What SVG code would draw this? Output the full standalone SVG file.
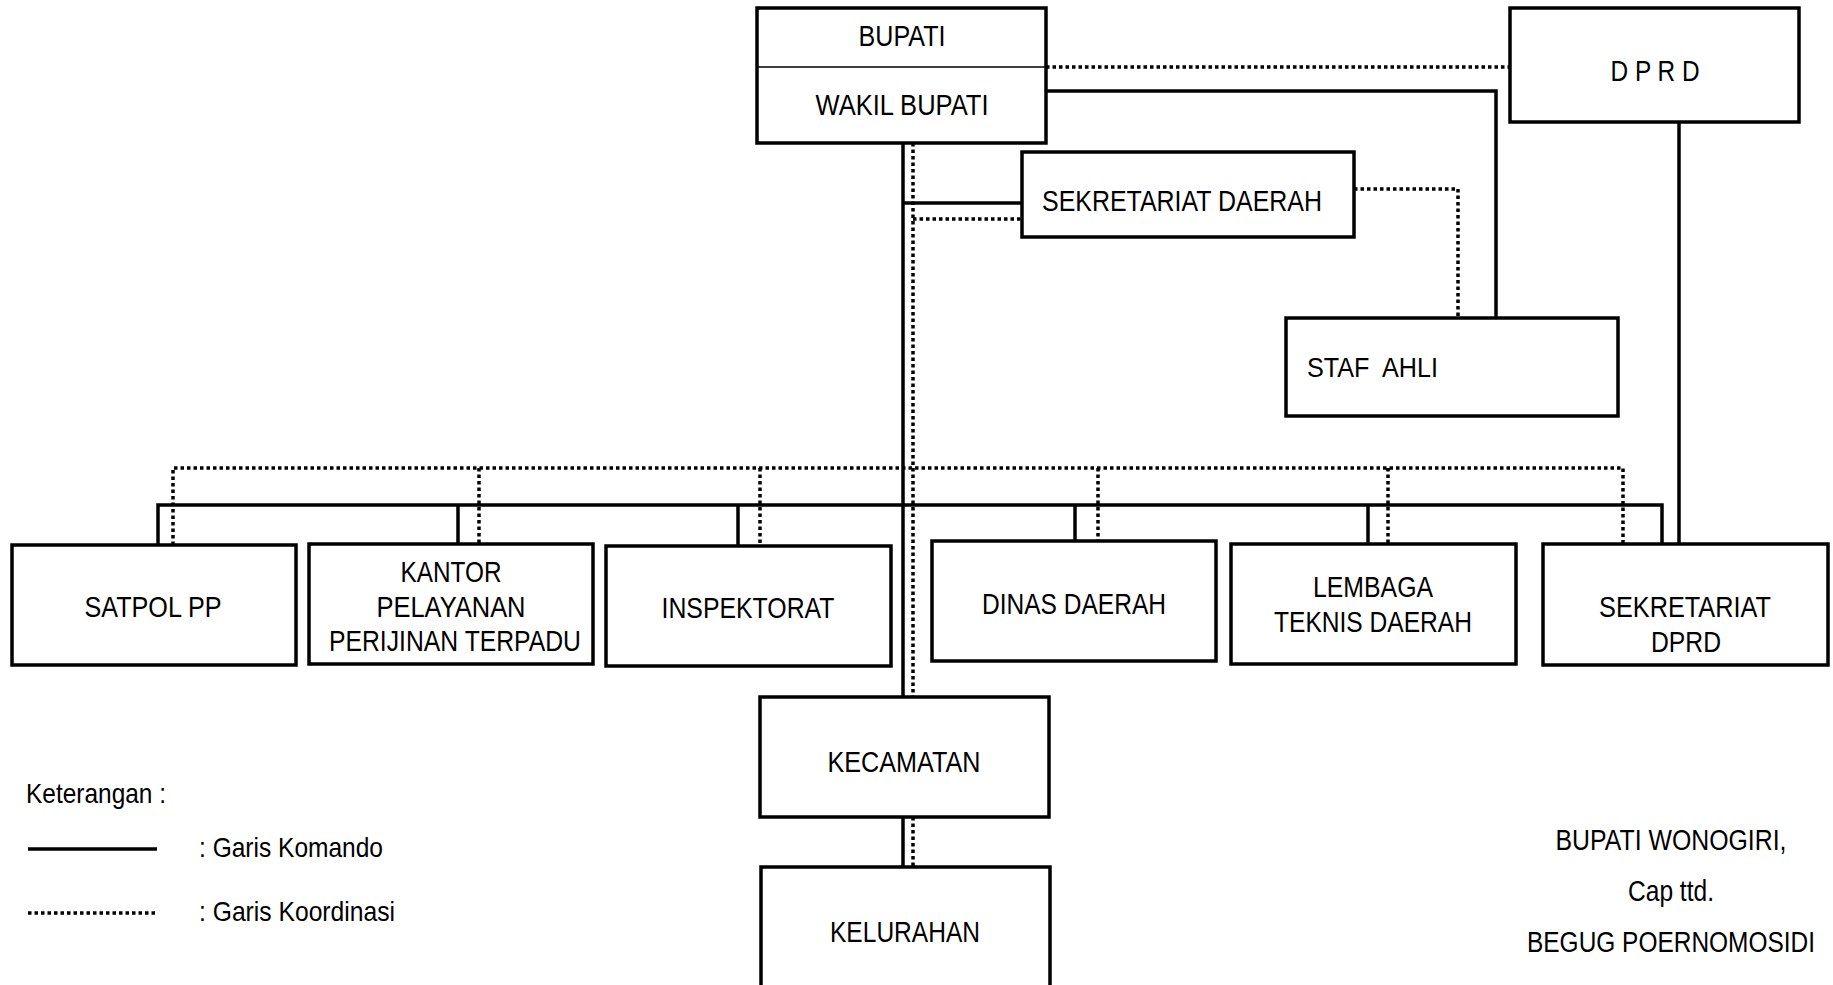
<svg xmlns="http://www.w3.org/2000/svg" width="1833" height="985" viewBox="0 0 1833 985">
<style>
.box{fill:#fff;stroke:#000;stroke-width:3.5}
.t{font-family:"Liberation Sans",Arial,sans-serif;font-size:29px;fill:#000;text-anchor:middle;dominant-baseline:central}
.tl{font-family:"Liberation Sans",Arial,sans-serif;font-size:28px;fill:#000;dominant-baseline:central;white-space:pre}
.s{fill:none;stroke:#000;stroke-width:3.5}
.d{fill:none;stroke:#000;stroke-width:3.5;stroke-dasharray:3.5 3}
</style>
<rect width="1833" height="985" fill="#fff"/>
<g id="connectors">
  <path class="s" d="M903 143V697M903 817V867"/>
  <path class="d" d="M913 143V697M913 817V867"/>
  <path class="s" d="M903 203H1022"/>
  <path class="d" d="M913 219H1022"/>
  <path class="d" d="M1046 67H1509"/>
  <path class="s" d="M1046 91H1496V317"/>
  <path class="d" d="M1354 189H1458V317"/>
  <path class="s" d="M1679 122V544"/>
  <path class="d" d="M173 545V468H1623V544M479 468V544M760 468V546M1098 468V541M1388 468V544"/>
  <path class="s" d="M158 545V505H1662V544M458 505V544M738 505V546M1075 505V541M1368 505V544"/>
</g>
<g id="bupati">
  <rect class="box" x="757" y="8" width="289" height="135"/>
  <line x1="757" y1="67" x2="1046" y2="67" stroke="#000" stroke-width="1.5"/>
  <text class="t" x="902" y="36" textLength="87" lengthAdjust="spacingAndGlyphs">BUPATI</text>
  <text class="t" x="902" y="105" textLength="173" lengthAdjust="spacingAndGlyphs">WAKIL BUPATI</text>
</g>
<g id="dprd">
  <rect class="box" x="1510" y="8" width="289" height="114"/>
  <text class="t" x="1655" y="71" textLength="89" lengthAdjust="spacingAndGlyphs">D P R D</text>
</g>
<g id="sekda">
  <rect class="box" x="1022" y="152" width="332" height="85"/>
  <text class="t" x="1182" y="201" textLength="280" lengthAdjust="spacingAndGlyphs">SEKRETARIAT DAERAH</text>
</g>
<g id="stafahli">
  <rect class="box" x="1286" y="318" width="332" height="98"/>
  <text class="tl" x="1307" y="367" font-size="29" textLength="131" lengthAdjust="spacingAndGlyphs">STAF  AHLI</text>
</g>
<g id="satpol">
  <rect class="box" x="12" y="545" width="284" height="120"/>
  <text class="t" x="153" y="607" textLength="137" lengthAdjust="spacingAndGlyphs">SATPOL PP</text>
</g>
<g id="kantor">
  <rect class="box" x="309" y="544" width="284" height="120"/>
  <text class="t" x="451" y="572" textLength="101" lengthAdjust="spacingAndGlyphs">KANTOR</text>
  <text class="t" x="451" y="607" textLength="149" lengthAdjust="spacingAndGlyphs">PELAYANAN</text>
  <text class="t" x="455" y="641" textLength="252" lengthAdjust="spacingAndGlyphs">PERIJINAN TERPADU</text>
</g>
<g id="inspektorat">
  <rect class="box" x="606" y="546" width="285" height="120"/>
  <text class="t" x="748" y="608" textLength="173" lengthAdjust="spacingAndGlyphs">INSPEKTORAT</text>
</g>
<g id="dinas">
  <rect class="box" x="932" y="541" width="284" height="120"/>
  <text class="t" x="1074" y="604" textLength="184" lengthAdjust="spacingAndGlyphs">DINAS DAERAH</text>
</g>
<g id="lembaga">
  <rect class="box" x="1231" y="544" width="285" height="120"/>
  <text class="t" x="1373" y="587" textLength="120" lengthAdjust="spacingAndGlyphs">LEMBAGA</text>
  <text class="t" x="1373" y="622" textLength="198" lengthAdjust="spacingAndGlyphs">TEKNIS DAERAH</text>
</g>
<g id="sekdprd">
  <rect class="box" x="1543" y="544" width="285" height="121"/>
  <text class="t" x="1685" y="607" textLength="172" lengthAdjust="spacingAndGlyphs">SEKRETARIAT</text>
  <text class="t" x="1686" y="642" textLength="70" lengthAdjust="spacingAndGlyphs">DPRD</text>
</g>
<g id="kecamatan">
  <rect class="box" x="760" y="697" width="289" height="120"/>
  <text class="t" x="904" y="762" textLength="153" lengthAdjust="spacingAndGlyphs">KECAMATAN</text>
</g>
<g id="kelurahan">
  <rect class="box" x="761" y="867" width="289" height="130"/>
  <text class="t" x="905" y="932" textLength="150" lengthAdjust="spacingAndGlyphs">KELURAHAN</text>
</g>
<g id="legend">
  <text class="tl" x="26" y="793" textLength="140" lengthAdjust="spacingAndGlyphs">Keterangan :</text>
  <line class="s" x1="28" y1="849" x2="157" y2="849"/>
  <text class="tl" x="199" y="847" textLength="184" lengthAdjust="spacingAndGlyphs">: Garis Komando</text>
  <line class="d" x1="28" y1="913" x2="157" y2="913"/>
  <text class="tl" x="199" y="911" textLength="196" lengthAdjust="spacingAndGlyphs">: Garis Koordinasi</text>
</g>
<g id="signature">
  <text class="t" x="1671" y="840" font-size="26" textLength="231" lengthAdjust="spacingAndGlyphs">BUPATI WONOGIRI,</text>
  <text class="t" x="1671" y="891" font-size="27" textLength="86" lengthAdjust="spacingAndGlyphs">Cap ttd.</text>
  <text class="t" x="1671" y="942" font-size="26" textLength="288" lengthAdjust="spacingAndGlyphs">BEGUG POERNOMOSIDI</text>
</g>
</svg>
